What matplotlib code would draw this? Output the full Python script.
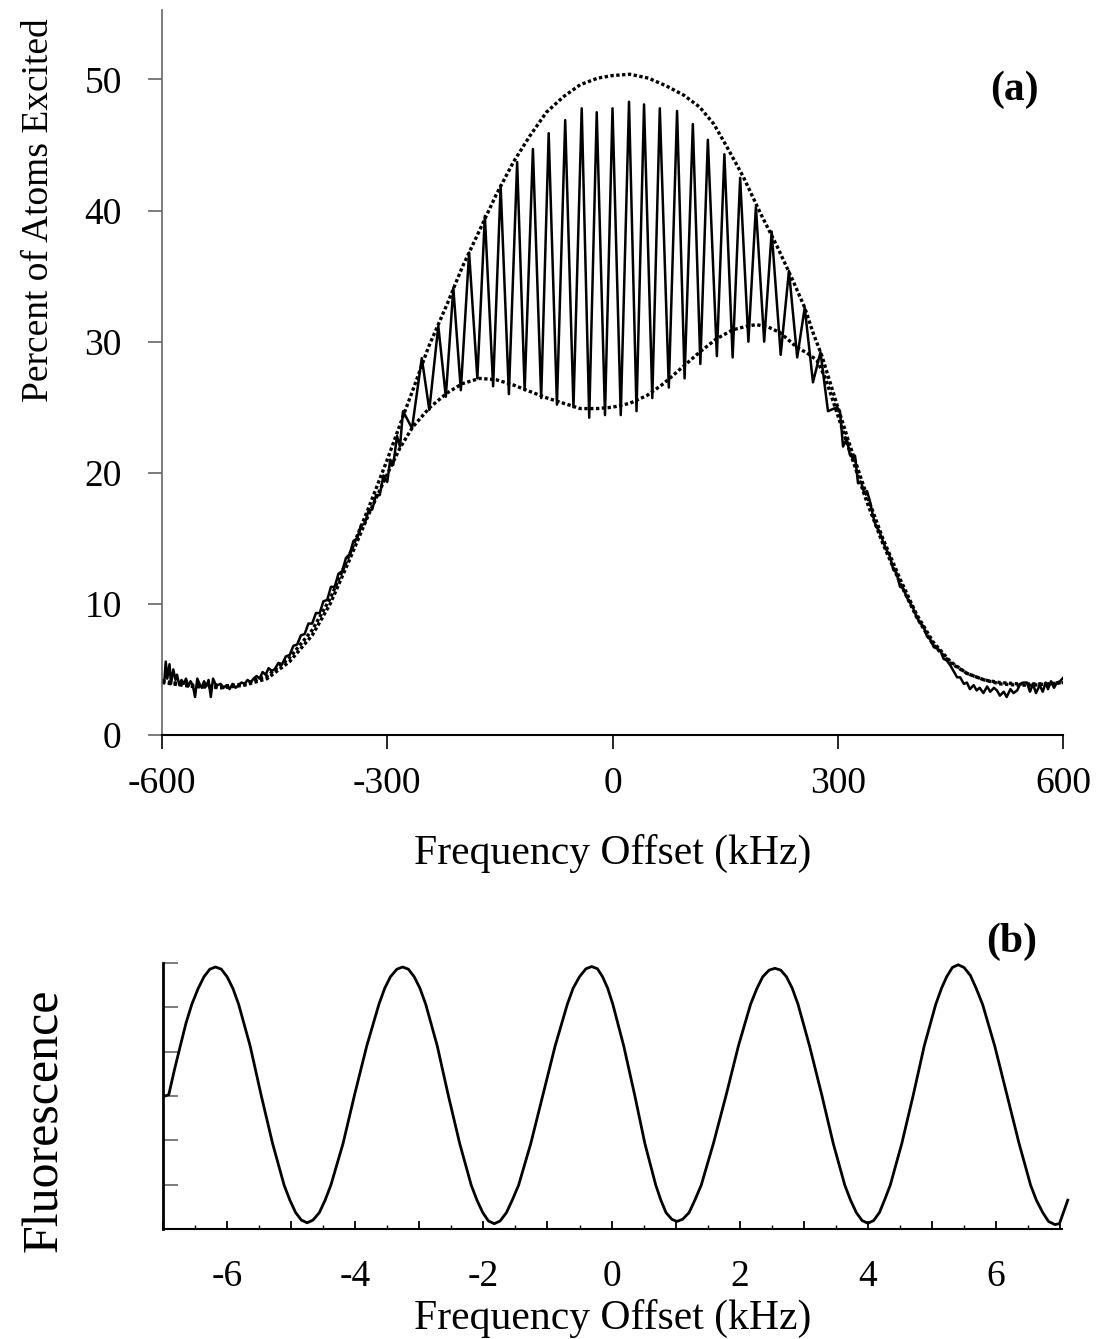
import numpy as np
import matplotlib
matplotlib.use("Agg")
import matplotlib.pyplot as plt
from matplotlib.ticker import MultipleLocator

plt.rcParams['font.family'] = ['Liberation Serif', 'DejaVu Serif']
plt.rcParams['axes.unicode_minus'] = False

# ---- (a) data: measured signal (kHz, %) ----
left_x = [-600, -597, -595, -593, -590, -588, -585, -582, -580, -577, -574, -571, -568, -565,
          -562, -559, -556, -553, -550, -547, -544, -541, -538, -535, -532, -529, -526, -522,
          -518, -514, -510, -506, -502, -498, -494, -490, -486, -482, -478, -474, -470, -466,
          -462, -458, -454, -450, -445, -440, -435, -430, -425, -420, -415, -410, -405, -400,
          -395, -390, -385, -380, -375, -370, -365, -360, -355, -350, -345, -340, -335, -330,
          -325, -320, -315, -310, -305, -300, -296, -292, -287, -283]
left_y = [4.2, 4.0, 5.6, 4.3, 5.4, 3.9, 5.0, 4.2, 4.6, 3.8, 4.2, 3.9, 4.3, 3.7,
          4.1, 3.8, 2.9, 4.3, 3.9, 3.6, 4.1, 3.7, 4.2, 2.9, 4.3, 3.9, 3.8, 3.9,
          3.6, 3.8, 3.5, 3.9, 3.6, 3.8, 4.0, 3.9, 4.2, 4.0, 4.3, 4.5, 4.3, 4.8,
          4.6, 5.1, 4.9, 5.0, 5.5, 5.4, 6.0, 6.1, 6.8, 6.9, 7.6, 7.7, 8.5, 8.5,
          9.3, 9.3, 10.2, 10.3, 11.3, 11.3, 12.3, 12.5, 13.5, 13.8, 14.8, 15.0, 16.0, 16.1,
          17.1, 17.2, 18.3, 18.3, 19.8, 19.3, 21.0, 20.6, 22.8, 22.0]

# fringe region: alternating peak / trough readings
fringe_x = [-279, -267, -254, -244, -232, -222, -212, -202, -191, -180, -170, -159, -149, -138,
            -127, -117, -106, -95, -85, -74, -63, -52, -41, -31, -21, -10, 0, 11,
            22, 32, 42, 53, 63, 75, 86, 96, 107, 117, 127, 139, 149, 160,
            170, 181, 191, 202, 212, 224, 235, 246, 256, 267, 277, 287, 299, 303]
fringe_y = [24.7, 23.4, 28.75, 24.8, 31.2, 25.8, 34.1, 26.3, 36.8, 27.2, 39.6, 26.6, 41.9, 26.0,
            43.7, 26.3, 44.7, 25.7, 45.9, 25.2, 46.9, 25.0, 47.8, 24.2, 47.5, 24.4, 47.8, 24.4,
            48.3, 24.7, 48.1, 25.7, 47.8, 26.5, 47.6, 27.2, 46.6, 28.3, 45.4, 28.9, 44.3, 28.8,
            42.5, 30.0, 40.3, 30.0, 38.4, 29.0, 35.4, 28.8, 32.6, 26.9, 29.2, 24.7, 25.0, 24.7]

right_x = [307, 312, 316, 320, 323, 327, 331, 335, 339, 343, 347, 351, 355, 360, 365, 369, 374,
           378, 383, 387, 392, 396, 401, 405, 410, 414, 419, 423, 428, 432, 437, 441, 445, 450,
           454, 459, 463, 468, 472, 476, 481, 485, 489, 494, 499, 503, 508, 512, 516, 521, 525,
           530, 534, 539, 543, 547, 552, 556, 560, 564, 569, 573, 577, 580, 584, 588, 592, 596, 600]
right_y = [22.0, 22.6, 21.4, 21.1, 21.3, 19.2, 19.3, 18.5, 18.6, 17.8, 16.7, 15.9, 15.6, 14.8,
           14.1, 13.7, 12.6, 12.4, 11.3, 11.2, 10.5, 10.1, 9.6, 9.0, 8.5, 8.3, 7.5, 7.3, 6.7,
           6.6, 6.4, 5.8, 5.7, 5.3, 4.9, 4.4, 4.4, 3.9, 4.0, 3.5, 3.8, 3.4, 3.6, 3.2, 3.7, 3.3,
           3.6, 3.4, 3.0, 3.3, 2.9, 3.5, 3.2, 3.4, 3.9, 4.0, 4.0, 3.3, 3.9, 3.2, 3.8, 3.3, 4.0,
           3.5, 4.1, 3.6, 4.0, 4.1, 4.35]

# envelopes (dotted)
upper_x = [-600, -560, -520, -490, -460, -430, -400, -376, -350, -325, -300, -279, -266, -245,
           -220, -200, -177, -155, -132, -110, -88, -65, -43, -20, 0, 23, 48, 72, 95, 116, 135,
           152, 174, 197, 219, 240, 256, 267, 279, 293, 315, 338, 360, 383, 405, 427, 450, 472,
           495, 516, 540, 560, 580, 600]
upper_y = [4.1, 3.8, 3.7, 3.9, 4.5, 5.9, 8.0, 10.4, 13.8, 17.3, 21.0, 24.3, 26.3, 29.6,
           32.9, 35.7, 38.5, 41.2, 43.7, 45.7, 47.5, 48.7, 49.6, 50.1, 50.3, 50.4, 50.1, 49.5,
           48.8, 47.9, 46.6, 44.9, 42.6, 39.8, 37.3, 34.7, 32.6, 30.7, 28.9, 26.3, 22.3, 18.4,
           15.0, 11.9, 9.2, 7.1, 5.6, 4.7, 4.2, 3.9, 3.8, 3.8, 3.9, 4.0]
lower_x = [-600, -560, -520, -490, -460, -430, -400, -376, -350, -325, -300, -283, -266, -243,
           -220, -200, -177, -155, -132, -110, -87, -65, -43, -20, 0, 23, 46, 68, 90, 116, 138,
           160, 180, 192, 208, 223, 245, 260, 272, 283, 293, 315, 338, 360, 383, 405, 427, 450,
           472, 495, 516, 540, 560, 580, 600]
lower_y = [4.0, 3.7, 3.6, 3.8, 4.3, 5.6, 7.6, 10.0, 13.4, 16.8, 19.9, 21.9, 23.5, 25.0,
           26.1, 26.8, 27.2, 27.1, 26.7, 26.2, 25.7, 25.3, 24.9, 24.9, 25.0, 25.3, 25.9, 26.8,
           27.9, 29.2, 30.2, 30.9, 31.2, 31.3, 31.1, 30.7, 29.6, 29.1, 28.6, 27.3, 25.6, 21.8,
           17.9, 14.6, 11.6, 9.0, 6.9, 5.5, 4.7, 4.2, 4.0, 3.9, 3.9, 3.9, 4.0]

# ---- (b) data: fluorescence fringes (kHz, arb.) ----
fl_x = [-6.97, -6.91, -6.82, -6.73, -6.64, -6.55, -6.45, -6.36, -6.27, -6.18, -6.09, -6.00,
        -5.91, -5.82, -5.64, -5.47, -5.29, -5.11, -5.02, -4.93, -4.84, -4.75, -4.66, -4.56,
        -4.47, -4.38, -4.19, -4.01, -3.82, -3.63, -3.54, -3.45, -3.35, -3.26, -3.17, -3.08,
        -2.99, -2.90, -2.72, -2.55, -2.37, -2.19, -2.10, -2.01, -1.92, -1.83, -1.74, -1.64,
        -1.55, -1.45, -1.26, -1.07, -0.88, -0.69, -0.60, -0.50, -0.40, -0.31, -0.22, -0.14,
        -0.06, 0.02, 0.19, 0.36, 0.52, 0.69, 0.77, 0.85, 0.94, 1.02, 1.11, 1.21, 1.30, 1.40,
        1.59, 1.79, 1.98, 2.17, 2.27, 2.36, 2.46, 2.55, 2.64, 2.73, 2.82, 2.91, 3.09, 3.28,
        3.46, 3.64, 3.73, 3.82, 3.91, 4.00, 4.09, 4.18, 4.26, 4.35, 4.53, 4.71, 4.88, 5.06,
        5.15, 5.23, 5.32, 5.41, 5.50, 5.60, 5.69, 5.79, 5.98, 6.17, 6.36, 6.54, 6.63, 6.73,
        6.82, 6.92, 6.99, 7.12]
fl_y = [3.0, 3.03, 3.6, 4.13, 4.65, 5.07, 5.43, 5.69, 5.86, 5.91, 5.86, 5.69,
        5.43, 5.07, 4.13, 3.03, 1.93, 0.99, 0.65, 0.37, 0.2, 0.14, 0.2, 0.37,
        0.65, 0.99, 1.93, 3.03, 4.13, 5.07, 5.43, 5.69, 5.86, 5.91, 5.86, 5.69,
        5.43, 5.07, 4.13, 3.03, 1.93, 0.99, 0.65, 0.37, 0.18, 0.12, 0.18, 0.37,
        0.65, 0.99, 1.93, 3.03, 4.13, 5.07, 5.43, 5.69, 5.87, 5.92, 5.87, 5.69,
        5.43, 5.07, 4.13, 3.03, 1.93, 0.99, 0.65, 0.37, 0.22, 0.17, 0.22, 0.37, 0.65, 0.99,
        1.93, 3.03, 4.13, 5.07, 5.43, 5.69, 5.84, 5.88, 5.84, 5.69, 5.43, 5.07, 4.13, 3.03,
        1.93, 0.99, 0.65, 0.37, 0.19, 0.13, 0.19, 0.37, 0.65, 0.99, 1.93, 3.03, 4.13, 5.07,
        5.43, 5.69, 5.90, 5.96, 5.90, 5.72, 5.43, 5.07, 4.13, 3.03, 1.93, 0.99, 0.65, 0.37,
        0.17, 0.10, 0.12, 0.65]

sig_x = np.concatenate([left_x, fringe_x, right_x])
sig_y = np.concatenate([left_y, fringe_y, right_y])

fig = plt.figure(figsize=(11.09, 13.39), dpi=100)

# ---------- panel (a) ----------
ax1 = fig.add_axes([162/1109, 1 - 735/1339, 901/1109, 725/1339])
ax1.plot(upper_x, upper_y, color='black', lw=2.4, linestyle=(0, (1, 0.75)))
ax1.plot(lower_x, lower_y, color='black', lw=2.4, linestyle=(0, (1, 0.75)))
ax1.plot(sig_x, sig_y, color='black', lw=1.8, solid_joinstyle='round')
ax1.set_xlim(-600, 600)
ax1.set_ylim(0, 55.3)
ax1.set_xticks([-600, -300, 0, 300, 600])
ax1.set_yticks([0, 10, 20, 30, 40, 50])
for s in ['top', 'right']:
    ax1.spines[s].set_visible(False)
ax1.spines['left'].set_color('#666666')
ax1.spines['left'].set_linewidth(1.2)
ax1.spines['bottom'].set_linewidth(1.5)
ax1.tick_params(axis='x', direction='out', length=10, width=1.2, labelsize=27, pad=13)
ax1.tick_params(axis='y', direction='out', length=10, width=1.2, color='#666666',
                labelsize=27, pad=19)
ax1.set_xlabel('Frequency Offset (kHz)', fontsize=30)
ax1.xaxis.set_label_coords(0.5, -0.137)
ax1.set_ylabel('Percent of Atoms Excited', fontsize=27)
ax1.yaxis.set_label_coords(-0.118, 0.724)

# ---------- panel (b) ----------
ax2 = fig.add_axes([163/1109, 1 - 1229/1339, 899/1109, 266/1339])
ax2.plot(fl_x, fl_y, color='black', lw=2.0, clip_on=False, solid_joinstyle='round')
ax2.set_xlim(-7.0, 7.03)
ax2.set_ylim(0, 6)
ticks = list(range(-7, 8))
ax2.set_xticks(ticks)
ax2.set_xticklabels([str(t) if t % 2 == 0 else '' for t in ticks])
ax2.xaxis.set_minor_locator(MultipleLocator(0.5))
ax2.set_yticks(range(0, 7))
ax2.set_yticklabels([])
for s in ['top', 'right']:
    ax2.spines[s].set_visible(False)
ax2.spines['left'].set_linewidth(2.0)
ax2.spines['bottom'].set_linewidth(1.5)
ax2.tick_params(axis='x', which='major', direction='in', length=6, width=1.3,
                labelsize=27, pad=22)
ax2.tick_params(axis='x', which='minor', direction='in', length=3, width=1.0)
ax2.tick_params(axis='y', direction='in', length=11, width=1.2, color='#666666')
ax2.set_xlabel('Frequency Offset (kHz)', fontsize=30)
ax2.xaxis.set_label_coords(0.5, -0.262)
ax2.set_ylabel('Fluorescence', fontsize=36)
ax2.yaxis.set_label_coords(-0.106, 0.41)

fig.text(1014/1109, 1 - 90/1339, '(a)', fontsize=30, fontweight='bold', ha='center', va='center')
fig.text(1012/1109, 1 - 942/1339, '(b)', fontsize=30, fontweight='bold', ha='center', va='center')

fig.savefig('out.png', dpi=100)
